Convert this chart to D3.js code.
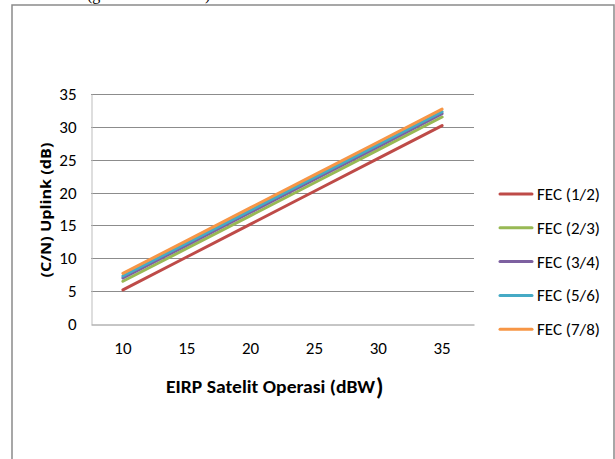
<!DOCTYPE html>
<html>
<head>
<meta charset="utf-8">
<script src="https://cdn.jsdelivr.net/npm/d3@7"></script>
<style>
  body { margin: 0; background: #fff; }
  svg { display: block; }
  text { font-family: Calibri, Carlito, "Liberation Sans Narrow", "Liberation Sans", sans-serif; fill: #000; }
</style>
</head>
<body>
<div id="chart"></div>
<script>
// Данные графика
const eirp = [10, 15, 20, 25, 30, 35];
const fec12 = [5.2, 10.2, 15.2, 20.2, 25.2, 30.2];
const fec23 = [6.5, 11.5, 16.5, 21.5, 26.5, 31.5];
const fec34 = [7.0, 12.0, 17.0, 22.0, 27.0, 32.0];
const fec56 = [7.3, 12.3, 17.3, 22.3, 27.3, 32.3];
const fec78 = [7.7, 12.7, 17.7, 22.7, 27.7, 32.7];
const seriesNames = ['FEC (1/2)', 'FEC (2/3)', 'FEC (3/4)', 'FEC (5/6)', 'FEC (7/8)'];
const seriesColors = ['#be4b48', '#98b954', '#7d60a0', '#46aac5', '#f79646'];
const yTicks = [0, 5, 10, 15, 20, 25, 30, 35];

const series = [fec12, fec23, fec34, fec56, fec78].map((values, i) => ({
    name: seriesNames[i],
    color: seriesColors[i],
    values: values.map((v, j) => ({ x: eirp[j], y: v }))
}));

const W = 615, H = 459;
const svg = d3.select('#chart').append('svg')
    .attr('width', W)
    .attr('height', H);

// обрезанная подпись сверху (от документа)
svg.append('text')
    .attr('x', 87).attr('y', 0)
    .style('font-family', '"Liberation Serif", serif')
    .attr('font-size', 16)
    .text('(g');
svg.append('text')
    .attr('x', 205).attr('y', 0)
    .style('font-family', '"Liberation Serif", serif')
    .attr('font-size', 16)
    .text(')');

// рамка области диаграммы
svg.append('rect')
    .attr('x', 12).attr('y', 5)
    .attr('width', 602).attr('height', 470)
    .attr('fill', 'none')
    .attr('stroke', '#8a8a8a')
    .attr('stroke-width', 1.5);

const plot = { left: 91, right: 474, top: 94, bottom: 324 };

const x = d3.scaleBand()
    .domain(eirp)
    .range([plot.left, plot.right])
    .padding(0);

const y = d3.scaleLinear()
    .domain([0, 35])
    .range([plot.bottom, plot.top]);

const cx = d => x(d) + x.bandwidth() / 2;

// сетка
svg.append('g')
    .selectAll('line')
    .data(yTicks.filter(t => t > 0))
    .enter().append('line')
    .attr('x1', plot.left).attr('x2', plot.right)
    .attr('y1', d => Math.round(y(d)) + 0.5)
    .attr('y2', d => Math.round(y(d)) + 0.5)
    .attr('stroke', '#8c8c8c')
    .attr('stroke-width', 1);

// ось Y
const yAxis = svg.append('g')
    .attr('transform', `translate(${plot.left + 0.5},0)`)
    .call(d3.axisLeft(y).tickValues(yTicks).tickSize(0).tickPadding(15));
yAxis.select('.domain').attr('stroke', '#bdbdbd');
yAxis.selectAll('text').attr('font-size', 17).style('font-family', null);

// ось X
const xAxis = svg.append('g')
    .attr('transform', `translate(0,${Math.round(plot.bottom) + 0.5})`)
    .call(d3.axisBottom(x).tickSize(0).tickPadding(17));
xAxis.select('.domain').attr('stroke', '#8c8c8c');
xAxis.selectAll('text').attr('font-size', 17).style('font-family', null);

// линии серий
const line = d3.line()
    .x(d => cx(d.x))
    .y(d => y(d.y));

svg.append('g')
    .selectAll('path')
    .data(series)
    .enter().append('path')
    .attr('d', d => line(d.values))
    .attr('fill', 'none')
    .attr('stroke', d => d.color)
    .attr('stroke-width', 3)
    .attr('stroke-linecap', 'round');

// подписи осей
svg.append('text')
    .attr('x', 166).attr('y', 393)
    .attr('font-size', 18)
    .attr('font-weight', 'bold')
    .attr('textLength', 209)
    .attr('lengthAdjust', 'spacingAndGlyphs')
    .text('EIRP Satelit Operasi (dBW');
svg.append('text')
    .attr('x', 376).attr('y', 395)
    .attr('font-size', 24)
    .attr('font-weight', 'bold')
    .text(')');

svg.append('text')
    .attr('transform', 'translate(51,210) rotate(-90)')
    .attr('text-anchor', 'middle')
    .attr('font-size', 15)
    .attr('font-weight', 'bold')
    .style('font-family', '"Open Sans", "Liberation Sans", sans-serif')
    .attr('textLength', 135)
    .attr('lengthAdjust', 'spacingAndGlyphs')
    .text('(C/N) Uplink (dB)');

// легенда
const legend = svg.append('g')
    .selectAll('g')
    .data(series)
    .enter().append('g')
    .attr('transform', (d, i) => `translate(499,${194 + i * 33.8})`);

legend.append('line')
    .attr('x1', 1).attr('x2', 33)
    .attr('y1', 0).attr('y2', 0)
    .attr('stroke', d => d.color)
    .attr('stroke-width', 3)
    .attr('stroke-linecap', 'round');

legend.append('text')
    .attr('x', 38).attr('y', 0)
    .attr('dy', '0.35em')
    .attr('font-size', 17)
    .text(d => d.name);
</script>
</body>
</html>
